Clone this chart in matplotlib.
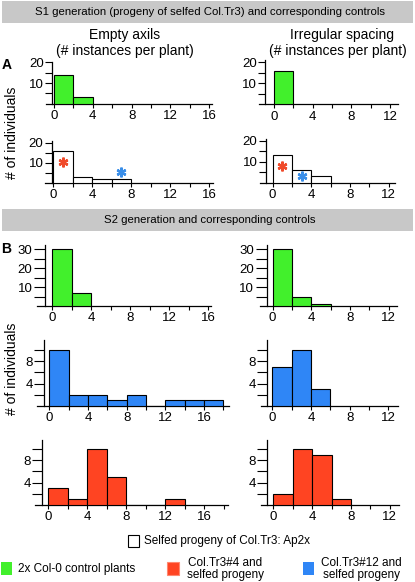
import numpy as np
import matplotlib
matplotlib.use('Agg')
import matplotlib.pyplot as plt
from matplotlib.patches import Rectangle
from matplotlib.ticker import FixedLocator

plt.rcParams['font.family'] = ['Liberation Sans', 'DejaVu Sans']

# histogram counts, bins of width 2 starting at 0
s1_empty_ctrl = [14, 3]
s1_irreg_ctrl = [16]
s1_empty_selfed = [16, 3, 2, 2]
s1_irreg_selfed = [13, 6, 3]
s2_empty_ctrl = [30, 7]
s2_irreg_ctrl = [30, 5, 1]
s2_empty_tr12 = [10, 2, 2, 1, 2, 0, 1, 1, 1]
s2_irreg_tr12 = [7, 10, 3]
s2_empty_tr4 = [3, 1, 10, 5, 0, 0, 1]
s2_irreg_tr4 = [2, 10, 9, 1]
BIN_W = 2

# asterisks marking the Tr3#4 / Tr3#12 founders (x, y)
star_empty = {'red': (1, 10.5), 'blue': (7, 5.3)}
star_irreg = {'red': (1, 8), 'blue': (3, 3)}

GREEN = '#42F02C'
RED = '#FF4422'
BLUE = '#2F86F6'
STAR_RED = '#F04A2A'
STAR_BLUE = '#3A8EE8'

W, H = 415, 582
fig = plt.figure(figsize=(W / 100, H / 100), dpi=100)

def fx(p):
    return p / W

def fy(p):
    return 1 - p / H

def panel(box, counts, color, xticks, yticks, yminor, ticklen):
    xmin, xmax, x0, sx, yax, base, top, sy = box
    ax = fig.add_axes([fx(xmin), fy(base), (xmax - xmin) / W, (base - top) / H])
    ax.set_xlim((xmin - x0) / sx, (xmax - x0) / sx)
    ytop = (base - top) / sy
    ax.set_ylim(0, ytop)
    edges = np.arange(len(counts)) * BIN_W
    ax.bar(edges, counts, width=BIN_W, align='edge', color=color,
           edgecolor='black', linewidth=0.8, zorder=3)
    for s in ['top', 'right']:
        ax.spines[s].set_visible(False)
    ax.spines['left'].set_position(('data', (yax - x0) / sx))
    ax.spines['left'].set_bounds(0, ytop)
    for s in ['left', 'bottom']:
        ax.spines[s].set_linewidth(0.9)
    ax.set_xticks(xticks)
    ax.xaxis.set_minor_locator(FixedLocator([t + 2 for t in xticks]))
    ax.set_yticks(yticks)
    ax.yaxis.set_minor_locator(FixedLocator(yminor))
    ax.tick_params(axis='x', which='both', direction='out', length=3, width=0.8,
                   labelsize=9.5, pad=1.5)
    ax.tick_params(axis='y', which='both', direction='out', length=ticklen, width=0.8,
                   labelsize=9.5, pad=1)
    ax.patch.set_visible(False)
    return ax

# layout boxes: xmin, xmax, x of 0, px/unit x, y-axis x, baseline y, top y, px/unit y
a1l = (45.7, 211.7, 54, 9.7, 52, 103.7, 62.3, 2.07)
a1r = (259, 397.7, 274, 9.67, 265, 104.3, 60, 2.1)
a2l = (45, 213, 53.3, 9.73, 51.7, 182.7, 141, 2.0)
a2r = (260, 395, 272.5, 9.67, 265.7, 182.7, 139, 2.1)
b1l = (36.5, 210.5, 52.3, 9.75, 45, 306, 245, 1.89)
b1r = (260, 396.7, 272.5, 9.67, 266.7, 306, 245, 1.89)
b2l = (37.3, 229.3, 49.3, 9.67, 44, 406, 340, 5.6)
b2r = (261, 398.3, 272.3, 9.67, 266.7, 406, 340, 5.6)
b3l = (35, 227.7, 48.3, 9.75, 42.3, 505, 440, 5.6)
b3r = (261, 399, 273.3, 9.7, 266.7, 505, 440, 5.6)

xt_l = [0, 4, 8, 12, 16]
xt_r = [0, 4, 8, 12]

panel(a1l, s1_empty_ctrl, GREEN, xt_l, [10, 20], [5, 15], 5)
panel(a1r, s1_irreg_ctrl, GREEN, xt_r, [10, 20], [5, 15], 5)
ax = panel(a2l, s1_empty_selfed, 'white', xt_l, [10, 20], [5, 15], 5)
for c, (x, y) in zip([STAR_RED, STAR_BLUE], [star_empty['red'], star_empty['blue']]):
    ax.plot(x, y, marker=(6, 2, 0), ms=7, mew=1.7, color=c, zorder=5)
ax = panel(a2r, s1_irreg_selfed, 'white', xt_r, [10, 20], [5, 15], 5)
for c, (x, y) in zip([STAR_RED, STAR_BLUE], [star_irreg['red'], star_irreg['blue']]):
    ax.plot(x, y, marker=(6, 2, 0), ms=7, mew=1.7, color=c, zorder=5)

panel(b1l, s2_empty_ctrl, GREEN, xt_l, [10, 20, 30], [5, 15, 25], 8)
panel(b1r, s2_irreg_ctrl, GREEN, xt_r, [10, 20, 30], [5, 15, 25], 8)
panel(b2l, s2_empty_tr12, BLUE, xt_l, [4, 8], [2, 6, 10], 7)
panel(b2r, s2_irreg_tr12, BLUE, xt_r, [4, 8], [2, 6, 10], 7)
panel(b3l, s2_empty_tr4, RED, xt_l, [4, 8], [2, 6, 10], 7)
panel(b3r, s2_irreg_tr4, RED, xt_r, [4, 8], [2, 6, 10], 7)

# grey section banners
for y0, y1, label in [(1, 22.7, 'S1 generation (progeny of selfed Col.Tr3) and corresponding controls'),
                      (209.3, 231, 'S2 generation and corresponding controls')]:
    fig.patches.append(Rectangle((fx(2), fy(y1)), (411) / W, (y1 - y0) / H,
                                 transform=fig.transFigure, facecolor='#C8C8C8',
                                 edgecolor='none', zorder=0))
    fig.text(fx(210), fy((y0 + y1) / 2), label, ha='center', va='center', fontsize=8.2)

# column titles
fig.text(fx(125), fy(35), 'Empty axils', ha='center', va='center', fontsize=10)
fig.text(fx(125), fy(51.5), '(# instances per plant)', ha='center', va='center', fontsize=10)
fig.text(fx(342), fy(35), 'Irregular spacing', ha='center', va='center', fontsize=10)
fig.text(fx(338), fy(51.5), '(# instances per plant)', ha='center', va='center', fontsize=10)

fig.text(fx(7), fy(65), 'A', ha='center', va='center', fontsize=10, fontweight='bold')
fig.text(fx(6), fy(248.7), 'B', ha='center', va='center', fontsize=10, fontweight='bold')
fig.text(fx(12), fy(133), '# of individuals', rotation=90, ha='center', va='center', fontsize=10)
fig.text(fx(12), fy(369), '# of individuals', rotation=90, ha='center', va='center', fontsize=10)

# legend
def swatch(x0, x1, y0, y1, fc, ec):
    fig.patches.append(Rectangle((fx(x0), fy(y1)), (x1 - x0) / W, (y1 - y0) / H,
                                 transform=fig.transFigure, facecolor=fc,
                                 edgecolor=ec, linewidth=0.8))

swatch(128, 139.3, 535, 546.7, 'white', 'black')
fig.text(fx(144.3), fy(541), 'Selfed progeny of Col.Tr3: Ap2x', ha='left', va='center', fontsize=8.5)
swatch(1, 12, 562, 575, GREEN, 'none')
fig.text(fx(18.3), fy(569), '2x Col-0 control plants', ha='left', va='center', fontsize=8.5)
swatch(167.3, 179.3, 562, 575, RED, '#FF8870')
fig.text(fx(225), fy(569), 'Col.Tr3#4 and\nselfed progeny', ha='center', va='center',
         fontsize=8.5, linespacing=1.05)
swatch(303.3, 314.3, 562, 575, BLUE, 'none')
fig.text(fx(361.7), fy(569), 'Col.Tr3#12 and\nselfed progeny', ha='center', va='center',
         fontsize=8.5, linespacing=1.05)

fig.savefig('out.png', dpi=100)
